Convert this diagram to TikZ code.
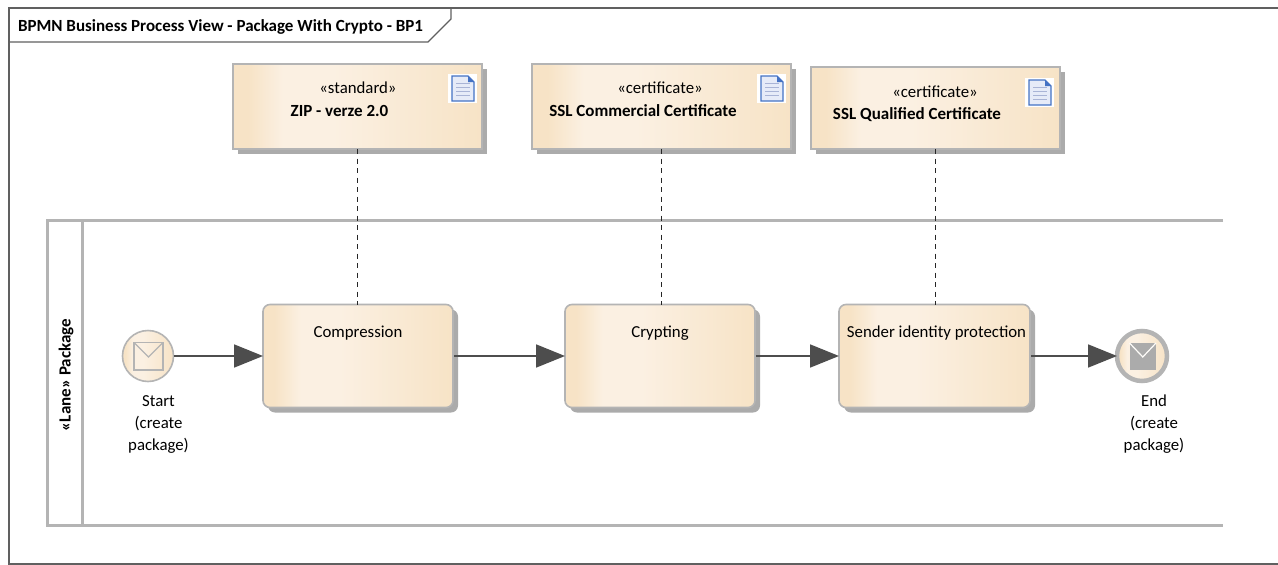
\documentclass[tikz,border=0pt]{standalone}
\usepackage{fontspec}
\setmainfont{Carlito}
\usetikzlibrary{shadows,arrows.meta}
\definecolor{edgegray}{HTML}{B4B4B4}
\definecolor{shadowgray}{HTML}{ABABAB}
\definecolor{inkdark}{HTML}{4D4D4D}
\definecolor{framegray}{HTML}{606060}
\definecolor{tanD}{HTML}{F7E3C6}
\definecolor{tanL}{HTML}{FBF0E2}
\definecolor{docblue}{HTML}{4472C4}
\definecolor{docpage}{HTML}{E6EBF8}
\definecolor{docline}{HTML}{A9B4D6}
\pgfdeclarehorizontalshading{bpmnfill}{100bp}{
  color(0bp)=(tanD); color(28bp)=(tanD); color(35bp)=(tanL); color(45bp)=(tanL); color(75bp)=(tanD); color(100bp)=(tanD)}
\tikzset{
  x=1pt,y=-1pt,
  every node/.style={font=\fontsize{16.8}{22}\selectfont,text=black,inner sep=0pt,outer sep=0pt},
  boldtxt/.style={font=\fontsize{17}{22}\selectfont\bfseries},
  box/.style={minimum width=#1,shading=bpmnfill,draw=edgegray,line width=1.6pt,
    general shadow={shadow xshift=5pt,shadow yshift=-5pt,fill=shadowgray}},
  notebox/.style={box=249pt,minimum height=85pt},
  taskbox/.style={box=190pt,minimum height=103pt,rounded corners=7pt},
  lane/.style={draw=edgegray,line width=3pt},
  flow/.style={draw=inkdark,line width=1.8pt,-{Triangle[length=29pt,width=23pt,fill=inkdark]}},
  link/.style={draw=black!85,line width=1.2pt,dash pattern=on 5pt off 4.5pt},
  lbl/.style={align=center},
}
\newcommand{\docicon}[2]{%
  \fill[white] (#1,#2) rectangle ++(29,29);
  \fill[docpage,draw=docblue,line width=1.2pt] (#1+4,#2+2) -- ++(16,0) -- ++(6,6) -- ++(0,19) -- ++(-22,0) -- cycle;
  \fill[docblue] (#1+20,#2+2) -- ++(6,6) -- ++(-6,0) -- cycle;
  \foreach \k in {9,13,17,21} \draw[docline,line width=1pt] (#1+8,#2+\k) -- ++(14,0);
}
\begin{document}
\begin{tikzpicture}
\useasboundingbox (0,0) rectangle (1278,565);
\fill[white] (0,0) rectangle (1278,565);
% frame
\draw[framegray,line width=1.3pt] (1278,8) -- (9,8) -- (9,564) -- (1278,564);
\draw[framegray,line width=1.2pt] (9,42) -- (428,42) -- (451,19) -- (451,8);
\node[anchor=west,boldtxt] (title) at (18,27) {BPMN Business Process View - Package With Crypto - BP1};
% lane
\draw[lane] (1223,220.5) -- (47.5,220.5) -- (47.5,525) -- (1223,525);
\draw[lane] (82,220.5) -- (82,525);
\node[rotate=90,boldtxt] (lanelabel) at (66,375) {«Lane» Package};
% notes
\node[notebox,anchor=north west] (zip) at (233,64) {};
\node[notebox,anchor=north west,minimum width=259pt] (ssl1) at (532,64) {};
\node[notebox,anchor=north west,minimum width=249pt,minimum height=82pt] (ssl2) at (811,67) {};
\docicon{448}{74}
\docicon{757}{74}
\docicon{1025}{78}
\node[lbl] (zipst) at (358,88) {«standard»};
\node[lbl,boldtxt] (zipname) at (339.5,111) {ZIP - verze 2.0};
\node[lbl] (s1st) at (660,88) {«certificate»};
\node[lbl,boldtxt] (s1name) at (643,111) {SSL Commercial Certificate};
\node[lbl] (s2st) at (935,92) {«certificate»};
\node[lbl,boldtxt] (s2name) at (917,114.5) {SSL Qualified Certificate};
% tasks
\node[taskbox,anchor=north west] (comp) at (263,304.5) {};
\node[taskbox,anchor=north west] (cryp) at (565,304.5) {};
\node[taskbox,anchor=north west,minimum width=191pt] (send) at (839,304.5) {};
\node[lbl] (compl) at (358,333.5) {Compression};
\node[lbl] (crypl) at (660,333.5) {Crypting};
\node[lbl] (sendl) at (936.5,333.5) {Sender identity protection};
% events
\node[circle,minimum size=51pt,shading=bpmnfill,draw=edgegray,line width=1.6pt] (start) at (148,356) {};
\node[circle,minimum size=50pt,shading=bpmnfill,draw=edgegray,line width=4.5pt] (end) at (1142,356) {};
\draw[edgegray,line width=1.6pt] (134,342.5) rectangle (163,370);
\draw[edgegray,line width=1.2pt] (134,342.5) -- (148.5,357) -- (163,342.5);
\fill[shadowgray] (1129.5,343) rectangle (1156,369.5);
\draw[white!90!tanD,line width=1.2pt] (1129.5,343) -- (1142.8,357) -- (1156,343);
\node[lbl] (startl) at (158.5,424.5) {Start\\(create\\package)};
\node[lbl] (endl) at (1154,424.5) {End\\(create\\package)};
% connectors
\draw[flow] (start) -- (comp);
\draw[flow] (comp.east) ++(1,0) -- (cryp.west);
\draw[flow] (cryp.east) ++(1,0) -- (send.west);
\draw[flow] (send.east) ++(1,0) -- (end.west);
\draw[link] (zip.south) -- (zip.south |- comp.north);
\draw[link] (ssl1.south) -- (ssl1.south |- cryp.north);
\draw[link] (ssl2.south) -- (ssl2.south |- send.north);
\end{tikzpicture}
\end{document}
